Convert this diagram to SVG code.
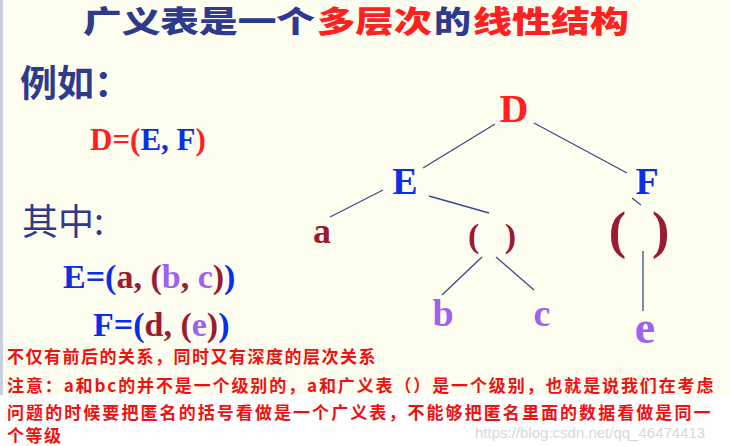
<svg xmlns="http://www.w3.org/2000/svg" width="730" height="446" viewBox="0 0 730 446">
<style>
.cn{font-family:"Noto Sans CJK SC","Noto Sans",sans-serif;font-weight:bold}
.tt{font-family:"Noto Sans CJK SC","Noto Sans",sans-serif;font-weight:900;font-size:30px}
.tm{font-family:"Liberation Serif",serif;font-weight:bold}
.ln{stroke:#3a4a8a;stroke-width:1.3;fill:none}
.blue{fill:#0b2ee8}.dr{fill:#9b1b30}.pu{fill:#a060f0}.red{fill:#ff2020}.nv{fill:#2e3a8c}
.note{font-family:"Noto Sans CJK SC",sans-serif;font-weight:bold;font-size:17px;letter-spacing:1.5px;fill:#f01010}
</style>
<rect width="730" height="446" fill="#ffffff"/>
<rect width="730" height="395" fill="#fefef0"/>
<rect x="0" y="0" width="3" height="395" fill="#c8d0e0"/>
<g id="title">
<text x="83" y="32" class="tt nv" textLength="232" lengthAdjust="spacingAndGlyphs">广义表是一个</text>
<text x="317" y="32" class="tt red" textLength="115" lengthAdjust="spacingAndGlyphs">多层次</text>
<text x="434" y="32" class="tt nv" textLength="37" lengthAdjust="spacingAndGlyphs">的</text>
<text x="473" y="32" class="tt red" textLength="156" lengthAdjust="spacingAndGlyphs">线性结构</text>
</g>
<g id="example"><text x="20" y="97" class="cn nv" font-size="37">例如：</text></g>
<g id="def-d"><text x="90" y="150" class="tm" font-size="31"><tspan class="red">D=(</tspan><tspan class="blue">E, F</tspan><tspan class="red">)</tspan></text></g>
<g id="where"><text x="22" y="235" font-family="Noto Sans CJK SC,sans-serif" font-size="36" class="nv">其中:</text></g>
<g id="def-e"><text x="63" y="288" class="tm" font-size="34"><tspan class="blue">E=(</tspan><tspan class="dr">a, (</tspan><tspan class="pu">b</tspan><tspan class="dr">, </tspan><tspan class="pu">c</tspan><tspan class="dr">)</tspan><tspan class="blue">)</tspan></text></g>
<g id="def-f"><text x="93" y="336" class="tm" font-size="34"><tspan class="blue">F=(</tspan><tspan class="dr">d, (</tspan><tspan class="pu">e</tspan><tspan class="dr">)</tspan><tspan class="blue">)</tspan></text></g>
<g id="connectors">
<line class="ln" x1="495" y1="124" x2="423" y2="168"/>
<line class="ln" x1="534" y1="123" x2="627" y2="173"/>
<line class="ln" x1="383" y1="190" x2="330" y2="217"/>
<line class="ln" x1="429" y1="196" x2="489" y2="213"/>
<line class="ln" x1="632" y1="198" x2="641" y2="205"/>
<line class="ln" x1="482" y1="257" x2="442" y2="295"/>
<line class="ln" x1="496" y1="257" x2="534" y2="290"/>
<line class="ln" x1="643" y1="251" x2="643" y2="311"/>
</g>
<g id="node-D"><text x="514" y="122" class="tm red" font-size="40" text-anchor="middle">D</text></g>
<g id="node-E"><text x="405" y="194" class="tm blue" font-size="38" text-anchor="middle">E</text></g>
<g id="node-F"><text x="647" y="194" class="tm blue" font-size="38" text-anchor="middle">F</text></g>
<g id="node-a"><text x="322" y="243" class="tm dr" font-size="36" text-anchor="middle">a</text></g>
<g id="node-bc"><text x="492" y="247" class="tm dr" font-size="34" font-weight="normal" text-anchor="middle" xml:space="preserve">(   )</text></g>
<g id="node-e-list"><text x="639" y="248" class="tm dr" font-size="52" font-weight="normal" text-anchor="middle" xml:space="preserve">(  )</text></g>
<g id="node-b"><text x="443" y="326" class="tm pu" font-size="38" text-anchor="middle">b</text></g>
<g id="node-c"><text x="542" y="326" class="tm pu" font-size="38" text-anchor="middle">c</text></g>
<g id="node-e"><text x="645" y="343" class="tm pu" font-size="46" text-anchor="middle">e</text></g>
<g id="notes">
<text x="7" y="363" class="note">不仅有前后的关系，同时又有深度的层次关系</text>
<text x="7" y="392" class="note" textLength="708">注意：a和bc的并不是一个级别的，a和广义表（）是一个级别，也就是说我们在考虑</text>
<text x="7" y="419" class="note" textLength="705">问题的时候要把匿名的括号看做是一个广义表，不能够把匿名里面的数据看做是同一</text>
<text x="7" y="442" class="note">个等级</text>
<text x="475" y="438" font-family="Liberation Sans,sans-serif" font-size="15" fill="#d8d8d8">https://blog.csdn.net/qq_46474413</text>
</g>
</svg>
